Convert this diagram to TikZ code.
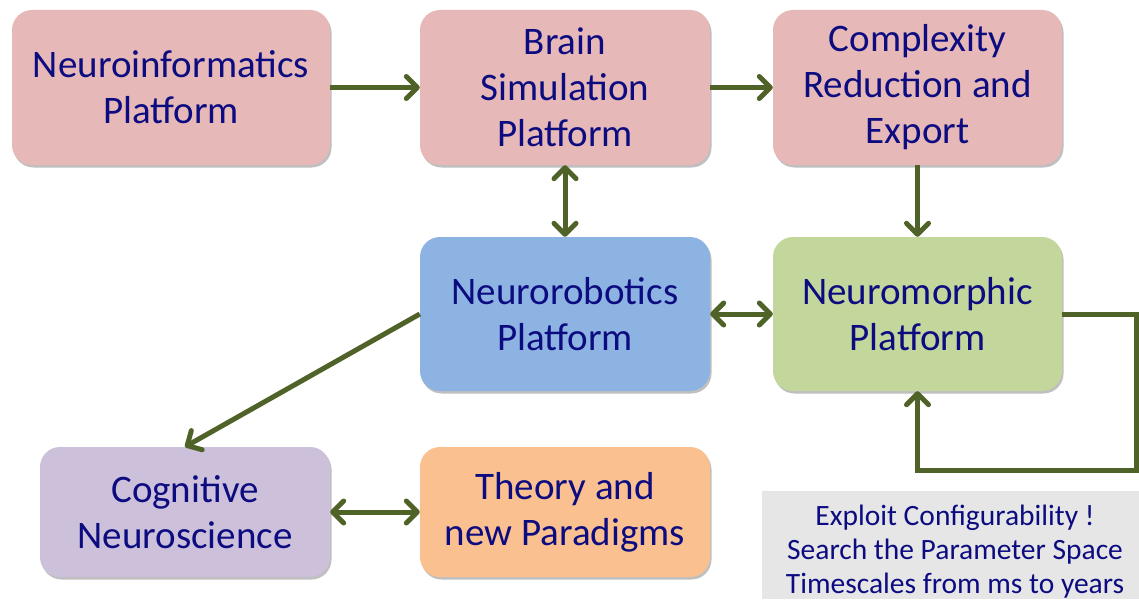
\documentclass[tikz,border=0pt]{standalone}
\usepackage{fontspec}
\setmainfont{Carlito}
\usetikzlibrary{arrows.meta,shadows}
\definecolor{txt}{RGB}{12,12,128}
\definecolor{pinkf}{RGB}{230,184,183}
\definecolor{bluef}{RGB}{141,179,226}
\definecolor{greenf}{RGB}{195,214,155}
\definecolor{purplef}{RGB}{204,192,218}
\definecolor{orangef}{RGB}{250,192,144}
\definecolor{grayf}{RGB}{230,230,230}
\definecolor{arrc}{RGB}{79,98,40}
\tikzset{
  box/.style={rounded corners=20pt, align=center, text=txt, inner sep=0pt,
    font=\fontsize{39}{46}\selectfont,
    drop shadow={shadow xshift=1.5pt, shadow yshift=-2.5pt, opacity=0.25, fill=black}},
  arr/.style={draw=arrc, line width=5pt, -{Straight Barb[length=11pt,width=22pt,round]}},
  darr/.style={draw=arrc, line width=5pt, {Straight Barb[length=11pt,width=22pt,round]}-{Straight Barb[length=11pt,width=22pt,round]}},
}
\begin{document}
\begin{tikzpicture}[x=1pt,y=-1pt]
\useasboundingbox (0,0) rectangle (1139,599);
\node[box, fill=pinkf, minimum width=318pt, minimum height=155pt] (n1) at (171,87.5) {Neuroinformatics\\Platform};
\node[box, fill=pinkf, minimum width=290pt, minimum height=155pt] (n2) at (565,87.5) {Brain\\Simulation\\Platform};
\node[box, fill=pinkf, minimum width=289pt, minimum height=155pt] (n3) at (917.5,87.5) {Complexity\\Reduction and\\Export};
\node[box, fill=bluef, minimum width=290pt, minimum height=154pt] (n4) at (565,314) {Neurorobotics\\Platform};
\node[box, fill=greenf, minimum width=289pt, minimum height=154pt] (n5) at (917.5,314) {Neuromorphic\\Platform};
\node[box, fill=purplef, minimum width=290pt, minimum height=130pt] (n6) at (185,512) {Cognitive\\Neuroscience};
\node[box, fill=orangef, minimum width=290pt, minimum height=130pt] (n7) at (565,512) {Theory and\\new Paradigms};
\fill[grayf] (762,491) rectangle (1139,599);
\node[align=center, text=txt, font=\fontsize{29.5}{34}\selectfont] (n8) at (955,552) {Exploit Configurability !\\Search the Parameter Space\\Timescales from ms to years};
\draw[arr] (n1.east) -- (n2.west);
\draw[arr] (n2.east) -- (n3.west);
\draw[darr] (n2.south) -- (n4.north);
\draw[arr] (n3.south) -- (n5.north);
\draw[darr] (n4.east) -- (n5.west);
\draw[arr] (n4.west) -- (n6.north);
\draw[darr] (n6.east) -- (n7.west);
\coordinate (loopR) at (1136,314);
\coordinate (loopB) at (1136,470);
\draw[arr] (n5.east) -- (loopR) -- (loopB) -| (n5.south);
\end{tikzpicture}
\end{document}
